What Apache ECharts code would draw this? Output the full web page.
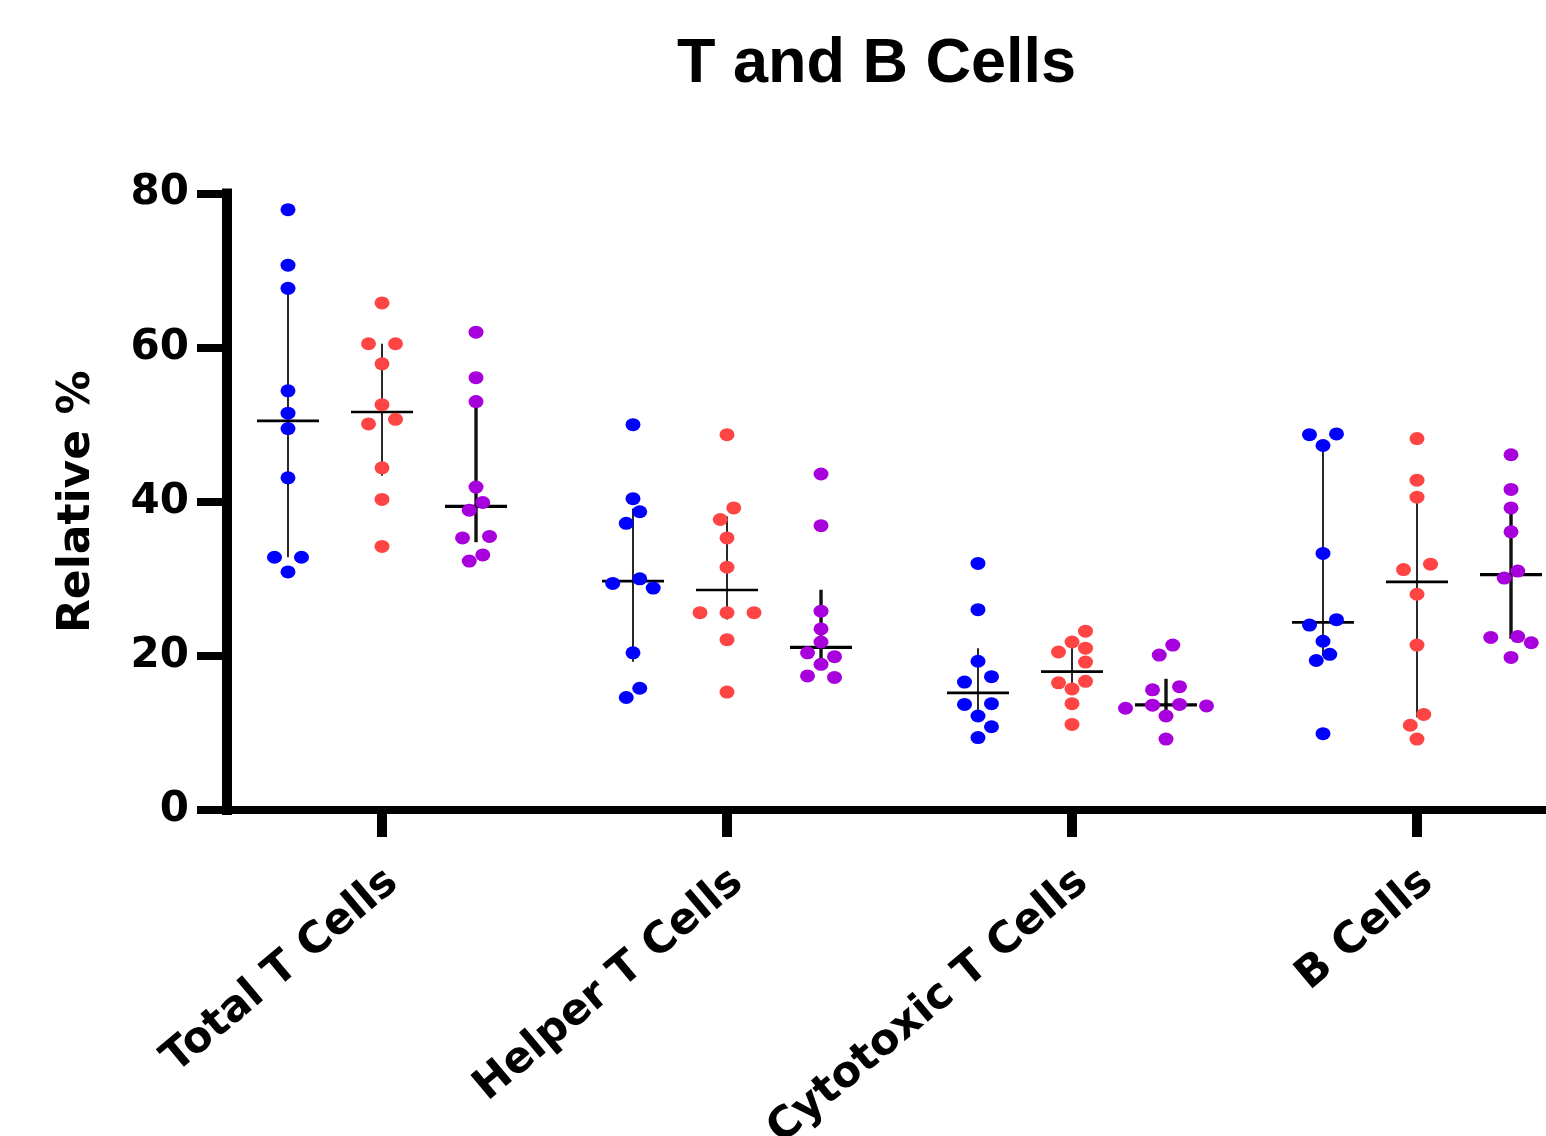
<!DOCTYPE html>
<html>
<head>
<meta charset="utf-8">
<title>T and B Cells</title>
<script src="https://cdn.jsdelivr.net/npm/echarts@6/dist/echarts.min.js"></script>
<style>
  html, body { margin: 0; padding: 0; background: #fff; }
  #chart { width: 1546px; height: 1136px; }
</style>
</head>
<body>
<div id="chart"></div>
<script>
// ---- data ----
var categories = ['Total T Cells', 'Helper T Cells', 'Cytotoxic T Cells', 'B Cells'];

// one list of values per category, in the order above
var blueValues = [
    [77.9, 70.7, 67.7, 54.4, 51.5, 49.5, 43.1, 32.8, 32.8, 30.9],
    [50.0, 40.4, 38.7, 37.2, 30.0, 29.4, 28.8, 20.4, 15.8, 14.6],
    [32.0, 26.0, 19.3, 17.3, 16.6, 13.8, 13.7, 12.2, 10.8, 9.4],
    [48.8, 48.7, 47.3, 33.3, 24.7, 24.0, 21.9, 20.2, 19.4, 9.9]
];
var redValues = [
    [65.8, 60.5, 60.5, 57.9, 52.6, 50.7, 50.1, 44.4, 40.3, 34.2],
    [48.7, 39.2, 37.7, 35.3, 31.5, 25.6, 25.6, 25.6, 22.1, 15.3],
    [23.2, 21.8, 21.0, 20.5, 19.2, 16.7, 16.5, 15.7, 13.8, 11.1],
    [48.2, 42.8, 40.6, 31.9, 31.2, 28.0, 21.4, 12.4, 11.0, 9.2]
];
var purpleValues = [
    [62.0, 56.1, 53.0, 41.9, 39.9, 38.9, 35.5, 35.3, 33.1, 32.3],
    [43.6, 36.9, 25.8, 23.5, 21.8, 20.4, 19.9, 18.9, 17.4, 17.2],
    [21.4, 20.1, 16.0, 15.6, 13.7, 13.6, 13.5, 13.2, 12.2, 9.2],
    [46.1, 41.6, 39.2, 36.1, 31.0, 30.1, 22.5, 22.4, 21.7, 19.8]
];

// ---- layout / style ----
var GRID_LEFT = 227, GRID_TOP = 193.5, GRID_BOTTOM = 326, CHART_W = 1546, CHART_H = 1136;
var X_MIN = 0.5507, X_MAX = 4.3739;
var Y_MIN = 0, Y_MAX = 80;
var X_PX = (CHART_W - GRID_LEFT) / (X_MAX - X_MIN);
var Y_PX = (CHART_H - GRID_BOTTOM - GRID_TOP) / (Y_MAX - Y_MIN);
var DOT_W = 15, DOT_H = 13, JITTER_STEP = 13.5;
var MEDIAN_HALF = 31;
var LABEL_SHIFT = 0.031;
var AXIS_FONT = 'DejaVu Sans';

var groups = [
    { values: blueValues,   color: '#0000FF', offset: -0.2725, barWidth: 1.8, medWidth: 2.6 },
    { values: redValues,    color: '#FF4444', offset: 0,       barWidth: 1.8, medWidth: 2.6 },
    { values: purpleValues, color: '#A800DC', offset: 0.2725,  barWidth: 3.4, medWidth: 3.2 }
];

// quartiles the way Prism does them: position p*(n+1)
function quantile(vals, p) {
    var s = vals.slice().sort(function (a, b) { return a - b; });
    var n = s.length;
    var pos = p * (n + 1);
    if (pos <= 1) return s[0];
    if (pos >= n) return s[n - 1];
    var lo = Math.floor(pos);
    return s[lo - 1] + (pos - lo) * (s[lo] - s[lo - 1]);
}

// simple beeswarm: push dots sideways until they stop overlapping
function jitter(vals) {
    var order = vals.map(function (v, i) { return i; })
        .sort(function (a, b) { return vals[b] - vals[a]; });
    var off = new Array(vals.length);
    var placed = [];
    order.forEach(function (i) {
        var y = vals[i] * Y_PX;
        for (var k = 0; k < 40; k++) {
            var x = (k % 2 === 1 ? -1 : 1) * Math.ceil(k / 2) * JITTER_STEP;
            var hit = placed.some(function (p) {
                var dx = (x - p.x) / DOT_W, dy = (y - p.y) / DOT_H;
                return dx * dx + dy * dy < 1;
            });
            if (!hit) { off[i] = x; placed.push({ i: i, x: x, y: y }); break; }
        }
    });
    // centre each vertical cluster of touching dots
    var sorted = placed.slice().sort(function (a, b) { return b.y - a.y; });
    var start = 0;
    for (var j = 1; j <= sorted.length; j++) {
        if (j === sorted.length || sorted[j - 1].y - sorted[j].y >= DOT_H) {
            var part = sorted.slice(start, j);
            var xs = part.map(function (p) { return p.x; });
            var mid = (Math.min.apply(null, xs) + Math.max.apply(null, xs)) / 2;
            part.forEach(function (p) { off[p.i] = p.x - mid; });
            start = j;
        }
    }
    return off;
}

var series = [];
groups.forEach(function (g) {
    var summary = [];
    var points = [];
    g.values.forEach(function (vals, c) {
        var cx = c + 1 + g.offset;
        summary.push([cx, quantile(vals, 0.5), quantile(vals, 0.25), quantile(vals, 0.75)]);
        var off = jitter(vals);
        vals.forEach(function (v, i) { points.push([cx + off[i] / X_PX, v]); });
    });
    series.push({
        type: 'custom',
        z: 2,
        clip: false,
        data: summary,
        encode: { x: 0, y: [1, 2, 3] },
        renderItem: function (params, api) {
            var x = api.value(0);
            var pMed = api.coord([x, api.value(1)]);
            var pLo = api.coord([x, api.value(2)]);
            var pHi = api.coord([x, api.value(3)]);
            return {
                type: 'group',
                children: [
                    { type: 'line', shape: { x1: pLo[0], y1: pLo[1], x2: pHi[0], y2: pHi[1] },
                      style: { stroke: '#111', lineWidth: g.barWidth } },
                    { type: 'line', shape: { x1: pMed[0] - MEDIAN_HALF, y1: pMed[1], x2: pMed[0] + MEDIAN_HALF, y2: pMed[1] },
                      style: { stroke: '#000', lineWidth: g.medWidth } }
                ]
            };
        }
    });
    series.push({
        type: 'scatter',
        z: 3,
        clip: false,
        symbol: 'circle',
        symbolSize: [DOT_W, DOT_H],
        itemStyle: { color: g.color, opacity: 1 },
        data: points
    });
});

var chart = echarts.init(document.getElementById('chart'), null, { renderer: 'canvas' });
chart.setOption({
    animation: false,
    backgroundColor: '#fff',
    title: {
        text: 'T and B Cells',
        left: 677,
        top: 33,
        padding: 0,
        textStyle: { fontFamily: 'Liberation Sans', fontWeight: 'bold', fontSize: 63, color: '#000' }
    },
    grid: {
        left: GRID_LEFT, right: 0, top: GRID_TOP, bottom: GRID_BOTTOM,
        containLabel: false, outerBoundsMode: 'none'
    },
    xAxis: {
        type: 'value',
        min: X_MIN,
        max: X_MAX,
        axisLine: { show: true, onZero: false, lineStyle: { color: '#000', width: 8, cap: 'square' } },
        axisTick: { show: true, customValues: [1, 2, 3, 4], length: 27, lineStyle: { color: '#000', width: 10 } },
        axisLabel: {
            customValues: [1, 2, 3, 4].map(function (v) { return v + LABEL_SHIFT; }),
            formatter: function (v) { return categories[Math.round(v) - 1]; },
            rotate: 40,
            margin: 67,
            color: '#000',
            fontFamily: AXIS_FONT,
            fontWeight: 'bold',
            fontSize: 43
        },
        splitLine: { show: false }
    },
    yAxis: {
        type: 'value',
        min: Y_MIN,
        max: Y_MAX,
        interval: 20,
        name: 'Relative %',
        nameLocation: 'middle',
        nameGap: 127,
        nameTextStyle: { fontFamily: AXIS_FONT, fontWeight: 'bold', fontSize: 44, color: '#000' },
        axisLine: { show: true, lineStyle: { color: '#000', width: 10, cap: 'square' } },
        axisTick: { show: true, length: 30, lineStyle: { color: '#000', width: 8 } },
        axisLabel: { margin: 38, color: '#000', fontFamily: AXIS_FONT, fontWeight: 'bold', fontSize: 42 },
        splitLine: { show: false }
    },
    series: series
});
</script>
</body>
</html>
